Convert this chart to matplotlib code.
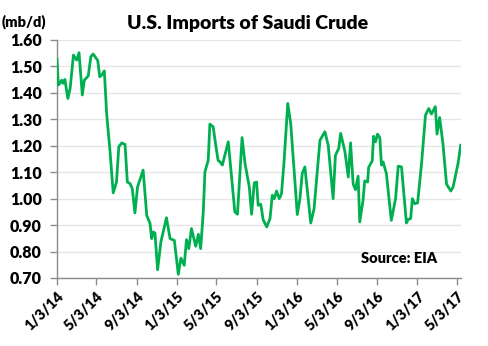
import matplotlib
matplotlib.use("Agg")
import matplotlib.pyplot as plt
import pandas as pd

# --- data ---
dates = [
    "2014-01-03", "2014-01-07", "2014-01-12", "2014-01-17", "2014-01-22", "2014-01-27",
    "2014-02-05", "2014-02-12", "2014-02-22", "2014-03-04", "2014-03-11", "2014-03-21",
    "2014-03-27", "2014-04-08", "2014-04-16", "2014-04-23", "2014-05-07", "2014-05-13",
    "2014-05-19", "2014-05-27", "2014-06-03", "2014-06-13", "2014-06-23", "2014-07-03",
    "2014-07-10", "2014-07-19", "2014-07-29", "2014-08-05", "2014-08-13", "2014-08-20",
    "2014-08-28", "2014-09-05", "2014-09-22", "2014-10-03", "2014-10-13", "2014-10-18",
    "2014-10-23", "2014-10-28", "2014-11-05", "2014-11-15", "2014-12-02", "2014-12-13",
    "2014-12-26", "2015-01-07", "2015-01-15", "2015-01-25", "2015-02-01", "2015-02-08",
    "2015-02-16", "2015-03-01", "2015-03-09", "2015-03-16", "2015-03-24", "2015-03-29",
    "2015-04-08", "2015-04-13", "2015-04-23", "2015-05-01", "2015-05-08", "2015-05-14",
    "2015-05-21", "2015-06-08", "2015-06-16", "2015-06-28", "2015-07-06", "2015-07-20",
    "2015-07-29", "2015-08-11", "2015-08-18", "2015-08-26", "2015-09-02", "2015-09-07",
    "2015-09-15", "2015-09-22", "2015-10-03", "2015-10-13", "2015-10-20", "2015-10-26",
    "2015-11-02", "2015-11-10", "2015-11-17", "2015-11-25", "2015-12-06", "2015-12-15",
    "2016-01-04", "2016-01-12", "2016-01-19", "2016-01-27", "2016-02-14", "2016-02-24",
    "2016-03-13", "2016-03-28", "2016-04-07", "2016-04-22", "2016-04-29", "2016-05-09",
    "2016-05-15", "2016-05-28", "2016-06-07", "2016-06-14", "2016-06-22", "2016-06-29",
    "2016-07-07", "2016-07-12", "2016-07-22", "2016-07-27", "2016-08-05", "2016-08-08",
    "2016-08-19", "2016-08-23", "2016-08-29", "2016-09-04", "2016-09-11", "2016-09-16",
    "2016-09-21", "2016-10-01", "2016-10-16", "2016-10-29", "2016-11-06", "2016-11-16",
    "2016-12-01", "2016-12-06", "2016-12-14", "2016-12-19", "2016-12-26", "2017-01-04",
    "2017-01-16", "2017-01-28", "2017-02-07", "2017-02-15", "2017-02-27", "2017-03-04",
    "2017-03-12", "2017-03-22", "2017-04-02", "2017-04-15", "2017-04-22", "2017-05-07",
    "2017-05-15",
]
imports_mbd = [
    1.527, 1.430, 1.436, 1.448, 1.436, 1.451,
    1.379, 1.417, 1.543, 1.524, 1.552, 1.392,
    1.448, 1.464, 1.537, 1.547, 1.522, 1.461,
    1.467, 1.483, 1.322, 1.183, 1.022, 1.063,
    1.196, 1.211, 1.205, 1.063, 1.057, 1.038,
    0.946, 1.044, 1.108, 0.937, 0.906, 0.849,
    0.874, 0.870, 0.731, 0.836, 0.928, 0.849,
    0.842, 0.714, 0.775, 0.748, 0.845, 0.811,
    0.887, 0.820, 0.865, 0.811, 0.950, 1.101,
    1.145, 1.282, 1.272, 1.202, 1.145, 1.139,
    1.127, 1.215, 1.108, 0.950, 0.941, 1.231,
    1.133, 1.044, 0.941, 1.059, 1.063, 0.975,
    0.979, 0.921, 0.893, 0.925, 1.013, 1.000,
    1.029, 1.000, 1.019, 1.145, 1.360, 1.284,
    0.940, 1.000, 1.095, 1.120, 0.908, 0.962,
    1.221, 1.253, 1.202, 1.000, 1.164, 1.190,
    1.247, 1.177, 1.082, 1.211, 1.055, 1.034,
    1.085, 0.912, 0.994, 1.067, 1.063, 1.118,
    1.143, 1.236, 1.215, 1.244, 1.231, 1.127,
    1.139, 1.095, 0.918, 1.000, 1.123, 1.120,
    0.908, 0.921, 0.925, 1.000, 0.981, 0.984,
    1.133, 1.316, 1.341, 1.320, 1.348, 1.244,
    1.307, 1.209, 1.055, 1.029, 1.044, 1.133,
    1.202,
]
tick_dates = ["2014-01-03", "2014-05-03", "2014-09-03", "2015-01-03", "2015-05-03",
              "2015-09-03", "2016-01-03", "2016-05-03", "2016-09-03", "2017-01-03",
              "2017-05-03"]
tick_labels = ["1/3/14", "5/3/14", "9/3/14", "1/3/15", "5/3/15", "9/3/15",
               "1/3/16", "5/3/16", "9/3/16", "1/3/17", "5/3/17"]
y_ticks = [0.70, 0.80, 0.90, 1.00, 1.10, 1.20, 1.30, 1.40, 1.50, 1.60]

plt.rcParams["font.family"] = ["Lato", "DejaVu Sans"]
W = "heavy"

x = pd.to_datetime(dates)
fig = plt.figure(figsize=(4.89, 3.46), dpi=100)
ax = fig.add_axes([57 / 489, 1 - 278 / 346, 404 / 489, 238 / 346])

ax.plot(x, imports_mbd, color="#00B050", lw=2.0, solid_joinstyle="round", zorder=3)

ax.set_ylim(0.70, 1.60)
ax.set_yticks(y_ticks)
ax.set_yticklabels([f"{v:.2f}" for v in y_ticks], fontsize=11.5, fontweight=W)
ax.set_xlim(pd.Timestamp("2014-01-03"), pd.Timestamp("2017-05-16"))
ax.set_xticks(pd.to_datetime(tick_dates))
ax.set_xticklabels(tick_labels, rotation=45, ha="right", rotation_mode="anchor",
                   fontsize=10.5, fontweight=W)

ax.grid(axis="y", color="#E6E6E6", lw=1.0, zorder=0)
for side in ["top", "right"]:
    ax.spines[side].set_visible(False)
for side in ["left", "bottom"]:
    ax.spines[side].set_color("#8C8C8C")
    ax.spines[side].set_linewidth(1.0)
ax.tick_params(axis="both", direction="out", color="#8C8C8C", length=5, width=1.0, pad=3)
ax.tick_params(axis="y", pad=6)

fig.text(248 / 489, 1 - 23 / 346, "U.S. Imports of Saudi Crude", ha="center", va="center",
         fontsize=14, fontweight=W)
fig.text(2 / 489, 1 - 22 / 346, "(mb/d)", ha="left", va="center", fontsize=10.5,
         fontweight=W)
ax.text(0.94, 0.08, "Source: EIA", transform=ax.transAxes, ha="right", va="center",
        fontsize=10.5, fontweight=W)

fig.savefig("out.png", dpi=100)
